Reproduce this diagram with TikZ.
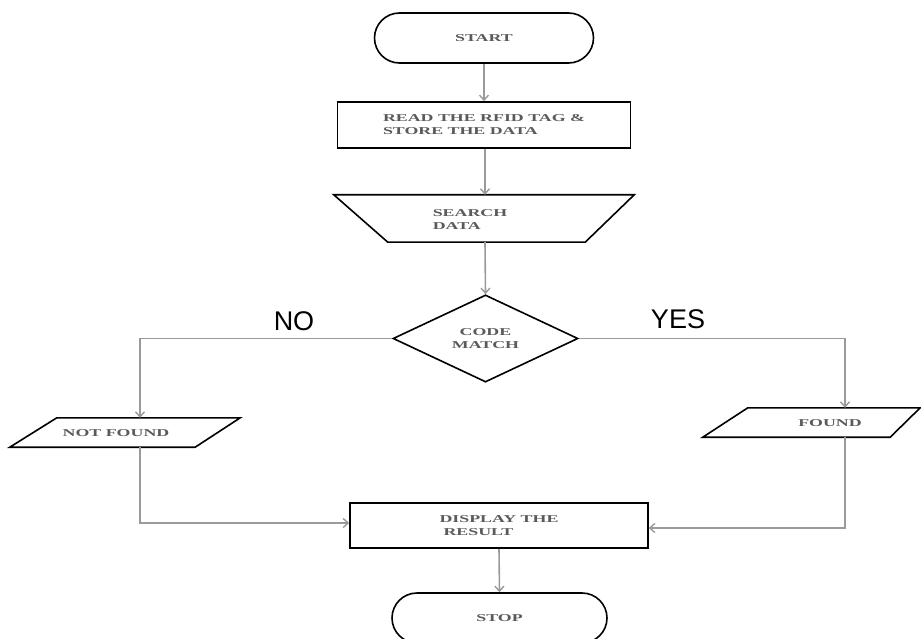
\documentclass[tikz,border=0pt]{standalone}
\usepackage{fontspec}
\newfontfamily\lblfont[FakeStretch=1.7]{Liberation Serif}
\newfontfamily\yesnofont{Liberation Sans}
\usetikzlibrary{shapes.geometric,shapes.misc,arrows.meta,calc}
\definecolor{conncol}{HTML}{9A9A9A}
\definecolor{txtcol}{HTML}{5A5A5A}
\tikzset{
  lbl/.style={font=\lblfont\bfseries\fontsize{10.5}{13}\selectfont, text=txtcol, inner sep=0pt},
  border/.style={draw=black, line width=1.6pt},
  term/.style={rounded rectangle, border, lbl, minimum height=50pt},
  procbox/.style={rectangle, border, lbl, minimum height=46pt},
  frame/.style={rectangle, lbl, minimum height=29pt},
  decide/.style={diamond, border, lbl, minimum width=185pt, minimum height=87pt, inner sep=0pt},
  conn/.style={draw=conncol, line width=1.6pt, -{Straight Barb[length=5pt,width=9pt,line width=1.4pt]}},
  yn/.style={font=\yesnofont\fontsize{27}{27}\selectfont, text=black, inner sep=0pt}
}
\begin{document}
\begin{tikzpicture}[x=1pt,y=-1pt]
\clip (0,0) rectangle (921,639);
\fill[white] (0,0) rectangle (921,639);

% nodes
\node[term, minimum width=219pt] (start) at (484,38) {START};
\node[procbox, minimum width=293pt, align=left] (read) at (484,125) {READ THE RFID TAG \&\\STORE THE DATA};
\node[rectangle, lbl, minimum width=300pt, minimum height=47pt] (search) at (484,218.5) {};
\draw[border] (search.north west) -- (search.north east) -- ([xshift=-49pt]search.south east) -- ([xshift=54pt]search.south west) -- cycle;
\node[lbl, align=left] (searchtxt) at (470,220) {SEARCH\\DATA};
\node[decide, align=center] (code) at (485.5,338.5) {CODE\\MATCH};
\node[frame, minimum width=230pt] (nf) at (125,432.5) {};
\draw[border] ([xshift=47pt]nf.north west) -- (nf.north east) -- ([xshift=-45pt]nf.south east) -- (nf.south west) -- cycle;
\node[lbl] (nftxt) at (116,433) {NOT FOUND};
\node[frame, minimum width=217pt] (fd) at (811.5,422.5) {};
\draw[border] ([xshift=45pt]fd.north west) -- (fd.north east) -- ([xshift=-30pt]fd.south east) -- (fd.south west) -- cycle;
\node[lbl] (fdtxt) at (830,423) {FOUND};
\node[procbox, minimum width=298pt, minimum height=45pt, align=left] (disp) at (499,525.5) {DISPLAY THE\\\hspace*{4pt}RESULT};
\node[term, minimum width=215pt] (stop) at (499.5,618) {STOP};

\node[yn] (no) at (294,321.5) {NO};
\node[yn] (yes) at (678,319.5) {YES};

% connectors
\draw[conn] (start.south) -- (read.north);
\draw[conn] ([xshift=1pt]read.south) -- ([xshift=1pt]search.north);
\draw[conn] ([xshift=1pt]search.south) -- (code.north);
\draw[conn] (code.west) -| ([xshift=15pt]nf.north);
\draw[conn] (code.east) -| ([xshift=33.5pt]fd.north);
\draw[conn] ([xshift=15pt]nf.south) |- ([yshift=2.5pt]disp.west);
\draw[conn] ([xshift=33.5pt]fd.south) |- ([yshift=-2.5pt]disp.east);
\draw[conn] (disp.south) -- (stop.north);
\end{tikzpicture}
\end{document}
